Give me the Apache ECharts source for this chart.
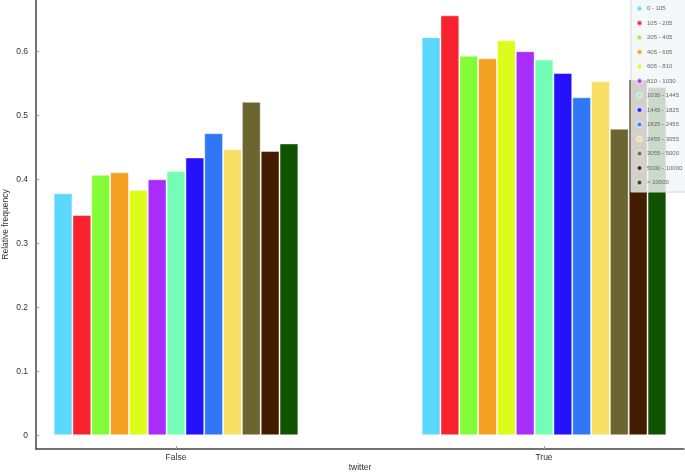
<!DOCTYPE html>
<html>
<head>
<meta charset="utf-8">
<script src="https://cdn.jsdelivr.net/npm/echarts@6.0.0/dist/echarts.min.js"></script>
<style>
  html, body { margin: 0; padding: 0; background: #fff; }
  #chart { width: 685px; height: 473px; }
</style>
</head>
<body>
<div id="chart"></div>
<script>
// twitter categories on the x axis
const categories = ['False', 'True'];

// follower-count bins (one bar series per bin)
const bins = [
  '0 - 105', '105 - 205', '205 - 405', '405 - 605', '605 - 810', '810 - 1030',
  '1030 - 1445', '1445 - 1825', '1825 - 2455', '2455 - 3055', '3055 - 5000',
  '5000 - 10000', '> 10000',
];

// relative frequency for twitter = False, per bin
const freqFalse = [0.378, 0.344, 0.407, 0.411, 0.383, 0.400, 0.413, 0.434, 0.472, 0.447, 0.521, 0.444, 0.456];
// relative frequency for twitter = True, per bin
const freqTrue = [0.622, 0.656, 0.593, 0.589, 0.617, 0.600, 0.587, 0.566, 0.528, 0.553, 0.479, 0.556, 0.544];

const yTicks = [0, 0.1, 0.2, 0.3, 0.4, 0.5, 0.6];
const xTicks = [0, 1];

const palette = [
  '#5bd8fb', '#f8212e', '#82fc37', '#f4a020', '#dcfc1b', '#a92cfa', '#74fdb6',
  '#2512fb', '#2f77f7', '#f9de64', '#6b6630', '#441c00', '#115200',
];

const font = 'Liberation Sans';

const chart = echarts.init(document.getElementById('chart'), null, { renderer: 'canvas' });

// x is a numeric axis (category index) so the plot range can run past the groups on both sides
chart.setOption({
  animation: false,
  textStyle: { fontFamily: font },
  grid: {
    left: 36,
    top: 0,
    width: 648,
    height: 449,
    outerBoundsMode: 'none',
    containLabel: false,
  },
  legend: {
    left: 631,
    top: -1,
    orient: 'vertical',
    icon: 'circle',
    itemWidth: 5,
    itemHeight: 5,
    itemGap: 7.5,
    itemTextGap: 3,
    padding: [6, 5, 6, 5],
    backgroundColor: 'rgba(243,246,246,0.82)',
    borderColor: '#d4d8d8',
    borderWidth: 1,
    textStyle: { fontSize: 6, color: '#666', fontFamily: font },
    data: bins,
  },
  xAxis: {
    type: 'value',
    min: -0.3804,
    max: 1.3804,
    name: 'twitter',
    nameLocation: 'middle',
    nameGap: 14,
    nameMoveOverlap: false,
    nameTextStyle: { fontSize: 8.5, color: '#333' },
    axisLine: { show: true, onZero: false, lineStyle: { color: '#444', width: 1.5 } },
    axisTick: { show: true, inside: true, length: 3, customValues: xTicks, lineStyle: { color: '#999' } },
    axisLabel: {
      fontSize: 8.5,
      color: '#333',
      margin: 4,
      customValues: xTicks,
      formatter: (v) => categories[Math.round(v)],
    },
    splitLine: { show: false },
  },
  yAxis: {
    type: 'value',
    min: -0.0214,
    max: 0.68,
    name: 'Relative frequency',
    nameLocation: 'middle',
    nameGap: 26,
    nameMoveOverlap: false,
    nameTextStyle: { fontSize: 8.5, color: '#333' },
    axisLine: { show: true, onZero: false, lineStyle: { color: '#444', width: 1.5 } },
    axisTick: { show: true, inside: true, length: 3, customValues: yTicks, lineStyle: { color: '#999' } },
    axisLabel: { fontSize: 8.5, color: '#333', margin: 8, customValues: yTicks },
    splitLine: { show: false },
  },
  series: bins.map((name, i) => ({
    name,
    type: 'bar',
    data: [[0, freqFalse[i]], [1, freqTrue[i]]],
    barGap: '0%',
    barCategoryGap: '33.5%',
    itemStyle: {
      color: palette[i],
      borderColor: 'rgba(255,255,255,0.45)',
      borderWidth: 1,
    },
  })),
});
</script>
</body>
</html>
